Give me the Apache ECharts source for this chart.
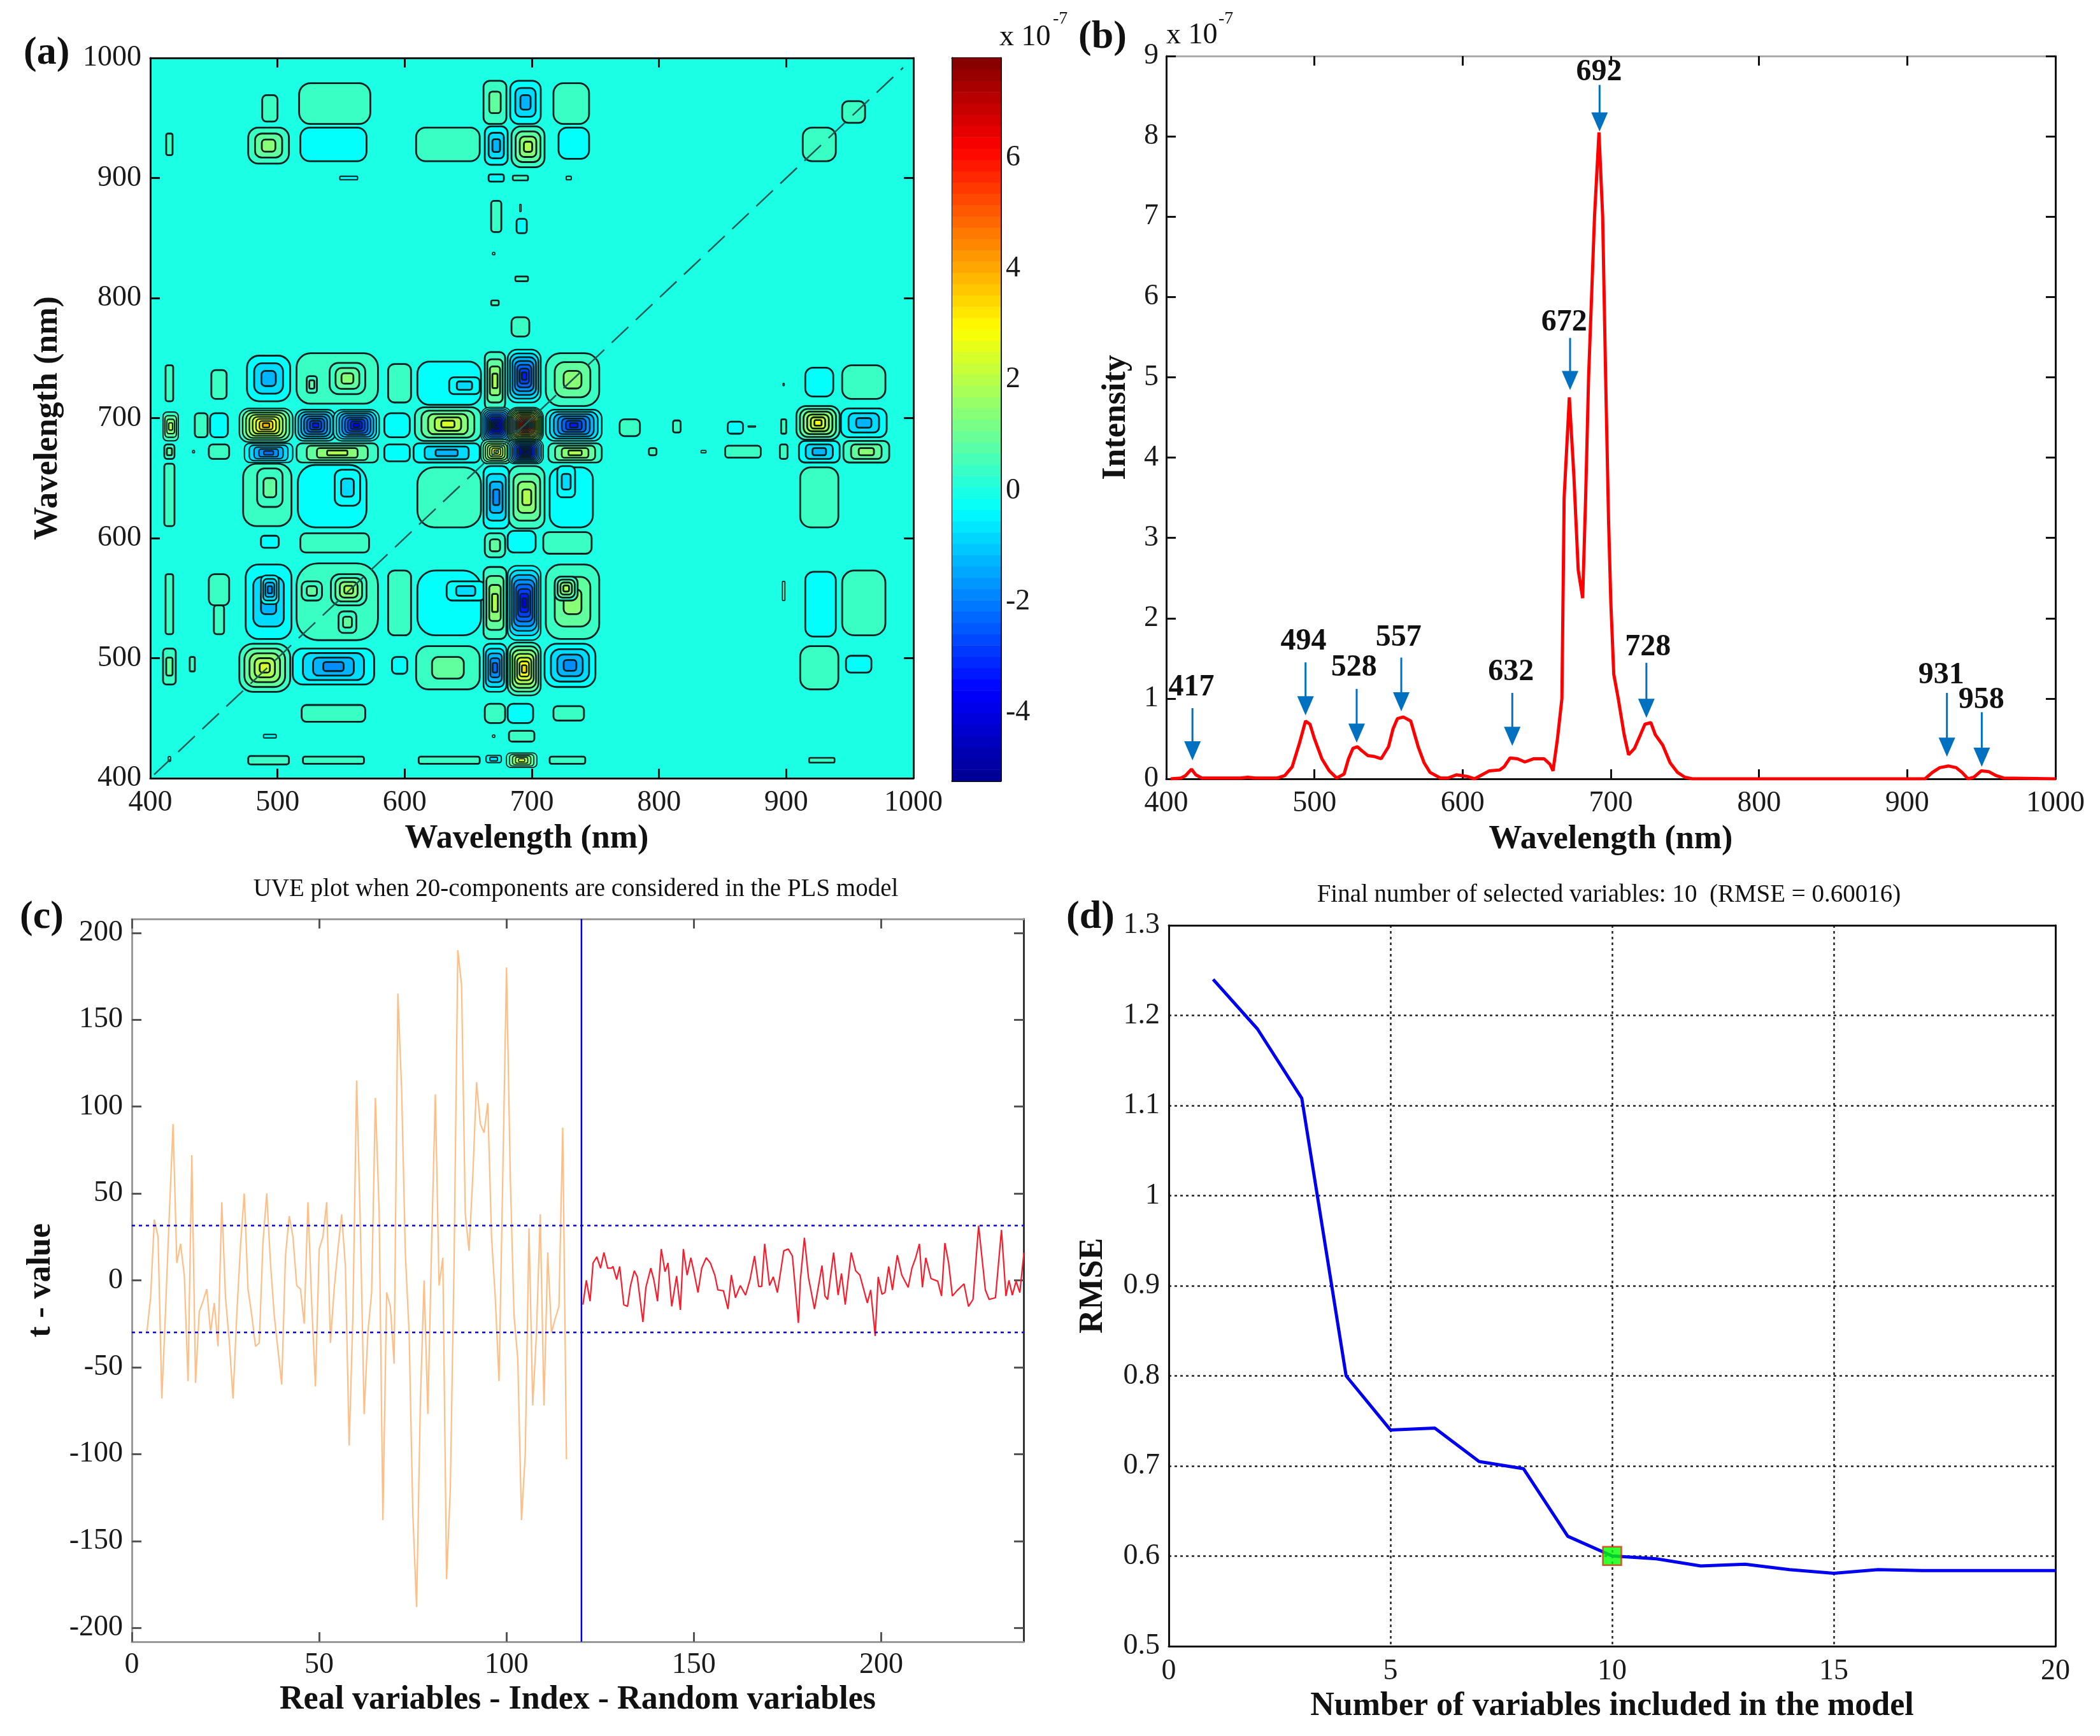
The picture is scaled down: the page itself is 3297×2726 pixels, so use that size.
<!DOCTYPE html>
<html><head><meta charset="utf-8">
<script src="https://cdn.jsdelivr.net/npm/echarts@6/dist/echarts.min.js"></script>
<style>html,body{margin:0;background:#fff}#c{width:3297px;height:2726px}</style></head>
<body><div id="c"></div>
<script>
// ---------- data ----------
const SERIF = '"Liberation Serif","Times New Roman",serif';
const CB_MIN = -5.23, CB_MAX = 7.8;
const CB_TICKS = [-4,-2,0,2,4,6];
// contour islands of panel (a): [x centre, y centre, half width x, half width y, peak, in 1e-7]
const ROW_958 = [[494,958,6,11,.3],[545,962,28,17,.3],[671,963,9,18,.8],[695,963,12,18,-1],[731,962,14,17,.3],[953,955,9,9,.3]];
const ROW_931 = [[415,928,2.5,9,.3],[493,927,16,15,1],[544,928,26,14,-.2],[634,928,25,14,.3],[672,927,9,16,-1.3],[697,926,13,17,1.5],[733,929,12,13,-.3],[926,928,13,14,.3]];
const ROW_900 = [[556,900,7,1.5,-.3],[672,900,6,3,-.3],[691,900,6,2,.3],[729,900,2,1.5,.3],[672,868,4,13,.3],[692,860,4,6,-.3],[691,875,.6,3,.3],[670,837,1,1,.3],[692,816,5,2,.3],[671,796,3,2,.3],[691,776,7,8,.3]];
const ROW_728 = [[415,729,3,15,.3],[454,728,6,12,.3],[493,733,17,19,-1.3],[547,733,32,21,.3],[555,733,14,13,1.2],[527,728,4,7,.8],[596,729,9,16,.3],[635,729,25,18,-.2],[647,727,12,7,-.7],[671,731,8,24,1.8],[694,735,13,22,-3],[732,732,21,22,1.2],[926,730,11,12,-.3],[961,730,17,14,.3],[898,728,.5,1,.3]];
const ROW_692 = [[416,693,6,12,1.5],[440,694,5,10,.3],[454,694,7,10,-.3],[491,694,21,14,3.5],[530,694,16,13,-3],[562,694,18,13,-3.8],[594,694,10,10,-.3],[634,695,26,14,2.2],[733,694,22,13,-3],[777,692,8,7,.3],[814,693,3,5,.3],[860,692,6,5,-.3],[873,693,3,.5,.3],[898,693,2,6,.3],[925,696,17,14,2.5],[961,696,18,12,-1]];
const ROW_672 = [[415,672,4,6,.5],[434,672,.8,1,.3],[454,672,8,6,.3],[493,671,19,8,-2],[547,671,32,8,1.5],[594,671,10,7,-.3],[633,671,26,8,-1],[734,671,21,8,1.8],[795,672,3,3,.3],[835,672,2,1,.3],[866,672,14,5,.3],[898,672,3,6,.3],[926,672,16,9,-1.3],[963,672,18,9,1]];
const ROW_CENTRE = [[672,694,12,15,-5],[695,694,14,15,7],[672,672,12,10,3],[695,672,14,10,-5]];
const ROW_635 = [[415,636,4,26,.3],[492,636,19,26,.3],[494,642,10,16,.8],[543,635,27,26,-.2],[555,642,10,15,-.7],[635,634,25,25,.3],[672,634,10,26,-1.5],[696,634,14,26,1.8],[731,634,17,25,-.2],[727,647,7,13,-.7],[926,634,15,25,.3]];
const ROW_597 = [[494,597,7,5,-.3],[545,596,27,8,.3],[671,594,8,10,.5],[692,597,11,9,-.3],[728,596,19,9,.3]];
const ROW_557 = [[415,545,3,25,.3],[454,557,8,13,.3],[454,532,4,12,.3],[493,547,18,31,-1.2],[494,557,7,12,-1.8],[547,547,32,32,.3],[556,557,14,13,1.5],[527,556,8,8,.8],[555,530,7,9,.8],[596,546,9,27,.3],[635,546,25,27,-.2],[648,556,15,8,-.7],[671,546,9,30,1.8],[694,546,13,31,-3.5],[732,547,21,31,1],[727,558,9,10,1.5],[898,556,1,8,.3],[927,545,12,27,-.2],[961,546,17,27,.3]];
const ROW_494 = [[415,493,5,15,.8],[433,495,2,6,.3],[490,492,20,20,2],[544,493,32,15,-1.8],[596,494,6,7,-.3],[634,492,25,18,.8],[671,492,9,20,-2],[694,491,13,22,3],[730,494,20,18,-1.7],[926,492,15,18,.3],[957,495,10,7,-.3]];
const ROW_455 = [[544,454,25,7,.3],[671,454,8,8,.3],[691,454,10,8,-.3],[729,454,12,6,.3]];
const ROW_437 = [[494,435,5,1.5,-.3],[670,435,1,1,.3],[692,435,10,4.5,.3]];
const ROW_417 = [[415,416,1,2,.3],[493,415,16,3.5,.3],[544,415,24,3,.3],[635,415,24,3,.3],[670,416,6,3,-.5],[692,415,12,6,2],[728,415,14,3,.3],[928,415,10,2,.3]];
const DIAGONAL = [[403,403],[992,992]];

// panel (b): mean spectrum, 1e-7
const SPEC_WL = [403,410,413,417,420,424,440,450,455,460,475,480,485,490,494,497,500,505,510,515,520,523,526,529,532,536,540,545,550,553,556,560,565,570,574,578,585,590,596,603,608,613,618,625,628,632,637,642,648,655,659,661,664,667,668.5,672,675,678,681,683,685,689,692,694.5,696.5,698.5,700,702,705,709,712,716,720,723,727,730,735,740,745,750,755,900,912,917,922,928,933,937,941,945,950,955,960,965,1000];
const SPEC_I = [0,.01,.04,.12,.05,.01,.01,.01,.02,.01,.01,.04,.15,.45,.72,.68,.5,.25,.1,.01,.06,.25,.38,.4,.35,.29,.28,.25,.4,.62,.75,.77,.72,.4,.2,.08,.01,.01,.05,.03,0,.05,.1,.11,.15,.26,.25,.21,.25,.25,.18,.1,.5,1,3.5,4.75,3.8,2.6,2.25,3.5,5,7,8.05,7,5,3.2,2.2,1.3,1,.55,.3,.38,.55,.68,.7,.55,.42,.2,.08,.02,0,0,0,.08,.14,.16,.14,.08,0,.02,.1,.09,.04,.01,0];
const PEAK_NAMES = ['417','494','528','557','632','672','692','728','931','958'];
const ARROW_X = [417.7,494,528.5,558.6,633.5,672.5,692.4,724,926.8,950.3];
const ARROW_TIP = [.23,.79,.45,.84,.41,4.84,8.06,.76,.275,.15];
const ARROW_TAIL = [.88,1.45,1.12,1.51,1.07,5.49,8.64,1.445,1.07,.83];
const NAME_X = [417,492.6,526.7,556.8,632.6,668.5,692,725,923,950];
const NAME_Y = [1.135,1.71,1.38,1.755,1.33,5.68,8.8,1.64,1.29,.98];

// panel (c): t values
const REAL_START = 4;
const REAL_T = [-30,-10,35,25,-68,-17,38,90,10,21,3,-58,72,-59,-18,-12,-5,-30,-13,-38,45,-10,-35,-68,-20,20,50,-5,-20,-38,-36,22,50,10,-20,-40,-60,14,37,25,-3,-5,-25,45,-13,-61,18,25,45,-36,-5,18,38,8,-95,-20,115,30,-77,-30,-7,105,40,-138,-7,-15,-48,165,110,15,-30,-135,-188,-70,0,-77,20,107,-3,13,-172,-120,10,190,170,38,17,60,114,90,85,102,25,-10,-58,60,180,60,-20,-45,-138,-100,30,-72,-30,38,-72,16,-30,-22,-15,88,-103];
const RANDOM_X = [120.4,121.3,122.3,123.1,124.1,125.1,126,127,128,128.4,129.4,130.2,131.3,132.3,133.1,134.1,134.9,135.6,136.4,137.2,138.5,139.3,140.3,141.3,142.3,143.1,144.1,145.4,146.4,147.2,148.2,149.2,150.1,151.1,152.1,153.3,154.4,155.6,156.4,157.9,159.1,160,161.1,162.4,163.8,165,166.2,167.3,168.1,168.9,170.2,171.2,172.3,174,175.2,176.3,177.9,178.4,179.5,180.6,182.2,184.2,185,185.7,187.3,188.5,189.4,190.4,192,193.2,194.3,196.3,197.2,198.4,199.2,200.2,201,202,203,204.3,205.5,207.2,208.2,209.2,210.2,211,211.9,213.3,215.1,216.1,217,218,219,220.2,222.1,223.3,224.5,226,226.8,227.8,228.8,230.5,232.1,233.3,234.1,235,236,237,238.1];
const RANDOM_T = [-14,0,-12,10,13.5,7,16,7,7,8,.5,8,-14,-15,-3,5.5,2,-10,-24,-4,7,.5,-12,18,5,10,-15,2.5,-17,18,3,13,4,-7,7,13,10,3,-5.5,-6,-16.5,3,-10,-3,-8.5,.5,14,-3.5,-3.5,21,-3,2,-7,17,18,14,-24.5,-.5,24.5,1.5,-16.5,8.5,-9,-11,16,-8.5,4,-14,16,5.5,3,-13,-5.5,-32,2,-8,-7,8,-5.5,14.5,3,-4,7,13,21,-4,13,1,-.5,-9,21.5,10,-9,-6,-2,-15,-11,31.5,15,-5.5,-11,-10,29,-9,0,-8.5,-.5,-7,16];
const THRESH_UP = 31.5, THRESH_LOW = -30, SPLIT_X = 120;
const C_X_MAX = 238, C_Y_LIM = 208;
const C_X_TICKS = [0,50,100,150,200];
const C_Y_TICKS = [-200,-150,-100,-50,0,50,100,150,200];

// panel (d)
const N_VARS = [1,2,3,4,5,6,7,8,9,10,11,12,13,14,15,16,17,18,19,20];
const RMSE = [1.24,1.185,1.108,.8,.74,.742,.705,.697,.622,.60016,.597,.589,.591,.585,.581,.585,.584,.584,.584,.584];
const BEST_N = 10, BEST_RMSE = .60016;

// ---------- helpers ----------
const JET = [[0,0,0,143],[.125,0,0,255],[.375,0,255,255],[.625,255,255,0],[.875,255,0,0],[1,128,0,0]];
function jet(v){
  const t=Math.max(0,Math.min(1,(v-CB_MIN)/(CB_MAX-CB_MIN)));
  for(let i=1;i<JET.length;i++) if(t<=JET[i][0]){
    const a=JET[i-1],b=JET[i],f=(t-a[0])/(b[0]-a[0]);
    return 'rgb('+[1,2,3].map(k=>Math.round(a[k]+(b[k]-a[k])*f)).join(',')+')';
  }
  return 'rgb(128,0,0)';
}
const tickFont={fontFamily:SERIF,fontSize:46,color:'#1a1a1a'};
const nameFont={fontFamily:SERIF,fontSize:52,fontWeight:'bold',color:'#111'};
const grids=[],xAxes=[],yAxes=[];
function axis(o,i,pos,primary){
  const a={type:'value',min:o.min,max:o.max,gridIndex:i,position:pos,
    axisLine:{show:true,onZero:false,lineStyle:{color:(o.lines&&o.lines[pos])||'#111',width:3}},
    axisTick:{show:!o.noTick,inside:true,length:15,lineStyle:{color:o.tick||'#111',width:3}},
    splitLine:o.split?{show:primary,lineStyle:{color:'#222',width:2.5,type:[4,5]}}:{show:false},
    axisLabel:{show:primary&&!o.noLabel,margin:o.margin||14,...tickFont,showMinLabel:true,showMaxLabel:true,formatter:o.fmt||(v=>String(v))}};
  if(o.interval) a.interval=o.interval;
  if(o.ticks){a.axisTick.customValues=o.ticks;a.axisLabel.customValues=o.ticks;}
  if(primary&&o.name){a.name=o.name;a.nameLocation='middle';a.nameGap=o.gap;a.nameTextStyle={...nameFont,padding:o.pad||0};}
  return a;
}
function panel(g,x,y){
  const i=grids.length;
  grids.push({left:g[0],top:g[1],width:g[2],height:g[3],show:true,backgroundColor:g[4]||'transparent',borderWidth:0});
  xAxes.push(axis(x,i,'bottom',true),axis(x,i,'top',false));
  yAxes.push(axis(y,i,'left',true),axis(y,i,'right',false));
  return {xAxisIndex:i*2,yAxisIndex:i*2};
}
// ---------- panels ----------
const pa=panel([236,91,1198,1131,jet(0)],
  {min:400,max:1000,interval:100,name:'Wavelength (nm)',gap:70,margin:16,pad:[0,16,0,0]},
  {min:400,max:1000,interval:100,name:'Wavelength (nm)',gap:134});
const pcb=panel([1495,91,76,1135],
  {min:0,max:1,noTick:true,noLabel:true},
  {min:CB_MIN,max:CB_MAX,ticks:CB_TICKS,noLabel:true});
const pb=panel([1831,88,1396,1135],
  {min:400,max:1000,interval:100,name:'Wavelength (nm)',gap:70,margin:16,lines:{top:'#aaa'}},
  {min:0,max:9,interval:1,name:'Intensity',gap:52,margin:12});
const pc=panel([207,1443,1400,1135],
  {min:0,max:C_X_MAX,ticks:C_X_TICKS,name:'Real variables - Index - Random variables',gap:66,lines:{bottom:'#999',top:'#999'},tick:'#555'},
  {min:-C_Y_LIM,max:C_Y_LIM,ticks:C_Y_TICKS,name:'t - value',gap:116,lines:{left:'#999',right:'#333'},tick:'#555'});
const pd=panel([1835,1453,1392,1132],
  {min:0,max:20,interval:5,name:'Number of variables included in the model',gap:69,margin:17,split:true,noTick:true},
  {min:.5,max:1.3,interval:.1,name:'RMSE',gap:92,split:true,noTick:true,fmt:v=>Math.abs(v-1)<1e-6?'1':v.toFixed(1)});

// colour bar labels live on the right side
yAxes[3].axisLabel.show=true;
yAxes[3].axisLabel.margin=8;
yAxes[3].axisLabel.customValues=CB_TICKS;

const BLOBS=[].concat(ROW_958,ROW_931,ROW_900,ROW_728,ROW_692,ROW_672,ROW_635,ROW_597,ROW_557,ROW_494,ROW_455,ROW_437,ROW_417,ROW_CENTRE);
function blobItem(params,api){
  const c=api.coord([api.value(0),api.value(1)]);
  const s=api.size([2*api.value(2),2*api.value(3)]);
  const p=api.value(4),sign=p<0?-1:1,mag=Math.abs(p);
  const n=Math.max(1,Math.ceil((mag-.3)/.5)+1);
  const spacing=Math.min(s[0],s[1])/2/n;
  const lw=Math.min(2.8,Math.max(1.7,spacing*.7));
  const children=[];
  for(let k=0;k<n;k++){
    const f=1-k/n,w=s[0]*f,h=s[1]*f;
    const level=sign>0?.4+k*.5:-(.3+k*.5);
    children.push({type:'rect',shape:{x:c[0]-w/2,y:c[1]-h/2,width:w,height:h,r:Math.min(w,h)*.28},
      style:{fill:jet(level),stroke:'#06201f',lineWidth:lw}});
  }
  return {type:'group',children};
}
const CB_CELLS=[];
for(let i=0;i<64;i++){
  const d=(CB_MAX-CB_MIN)/64;
  CB_CELLS.push([0,CB_MIN+i*d,CB_MIN+(i+1)*d]);
}
function cbItem(params,api){
  const a=api.coord([0,api.value(2)]),b=api.coord([1,api.value(1)]);
  return {type:'rect',shape:{x:a[0],y:a[1],width:b[0]-a[0],height:b[1]-a[1]+.6},
    style:{fill:jet((api.value(1)+api.value(2))/2)}};
}
function arrowItem(params,api){
  const x=api.value(0);
  const tip=api.coord([x,api.value(1)]),tail=api.coord([x,api.value(2)]);
  const lab=api.coord([api.value(3),api.value(4)]);
  const hw=13,hl=30;
  return {type:'group',children:[
    {type:'line',shape:{x1:tail[0],y1:tail[1],x2:tip[0],y2:tip[1]-hl+2},style:{stroke:'#0070c0',lineWidth:3}},
    {type:'polygon',shape:{points:[[tip[0],tip[1]],[tip[0]-hw,tip[1]-hl],[tip[0]+hw,tip[1]-hl]]},style:{fill:'#0070c0'}},
    {type:'text',style:{x:lab[0],y:lab[1],text:PEAK_NAMES[params.dataIndex],font:'bold 48px '+SERIF,fill:'#111',align:'center',verticalAlign:'middle'}}
  ]};
}
const zip=(a,b)=>a.map((v,i)=>[v,b[i]]);
const lineBase={type:'line',showSymbol:false,smooth:false,animation:false};
const series=[
  {type:'custom',...pa,data:BLOBS,renderItem:blobItem,encode:{x:0,y:1},clip:true,silent:true},
  {...lineBase,...pa,data:DIAGONAL,lineStyle:{color:'#1b5a55',width:2.5,type:[36,16]},z:5},
  {type:'custom',...pcb,data:CB_CELLS,renderItem:cbItem,encode:{x:0,y:[1,2]},silent:true},
  {...lineBase,...pb,data:zip(SPEC_WL,SPEC_I),lineStyle:{color:'#ff0000',width:5}},
  {type:'custom',...pb,data:ARROW_X.map((x,i)=>[x,ARROW_TIP[i],ARROW_TAIL[i],NAME_X[i],NAME_Y[i]]),renderItem:arrowItem,encode:{x:0,y:1},clip:false,silent:true},
  {...lineBase,...pc,data:REAL_T.map((t,i)=>[REAL_START+i,t]),lineStyle:{color:'#ffbe85',width:2.2}},
  {...lineBase,...pc,data:zip(RANDOM_X,RANDOM_T),lineStyle:{color:'#fb1a2a',width:2.2}},
  {...lineBase,...pc,data:[[0,THRESH_UP],[C_X_MAX,THRESH_UP]],lineStyle:{color:'#0000e6',width:2.5,type:[5,6]}},
  {...lineBase,...pc,data:[[0,THRESH_LOW],[C_X_MAX,THRESH_LOW]],lineStyle:{color:'#0000e6',width:2.5,type:[5,6]}},
  {...lineBase,...pc,data:[[SPLIT_X,-C_Y_LIM],[SPLIT_X,C_Y_LIM]],lineStyle:{color:'#0000e6',width:2.5}},
  {...lineBase,...pd,data:zip(N_VARS,RMSE),lineStyle:{color:'#0000f0',width:5}},
  {type:'scatter',...pd,data:[[BEST_N,BEST_RMSE]],symbol:'rect',symbolSize:29,itemStyle:{color:'#00ff00',borderColor:'#e03010',borderWidth:2.5},z:6,animation:false}
];
const txt=(x,y,t,font,align)=>({type:'text',x,y,style:{text:t,font,fill:'#111',align:align||'left',verticalAlign:'middle'},silent:true});
const graphic=[
  txt(37,84,'(a)','bold 62px '+SERIF),
  txt(1693,59,'(b)','bold 62px '+SERIF),
  txt(31,1441,'(c)','bold 62px '+SERIF),
  txt(1674,1441,'(d)','bold 62px '+SERIF),
  txt(1569,59,'x 10','46px '+SERIF),txt(1653,30,'-7','28px '+SERIF),
  txt(1831,56,'x 10','46px '+SERIF),txt(1913,30,'-7','28px '+SERIF),
  txt(904,1397,'UVE plot when 20-components are considered in the PLS model','39px '+SERIF,'center'),
  txt(2526,1406,'Final number of selected variables: 10  (RMSE = 0.60016)','39px '+SERIF,'center')
];
const chart=echarts.init(document.getElementById('c'),null,{renderer:'canvas'});
chart.setOption({animation:false,backgroundColor:'#fff',grid:grids,xAxis:xAxes,yAxis:yAxes,series,graphic});
</script>
</body></html>
